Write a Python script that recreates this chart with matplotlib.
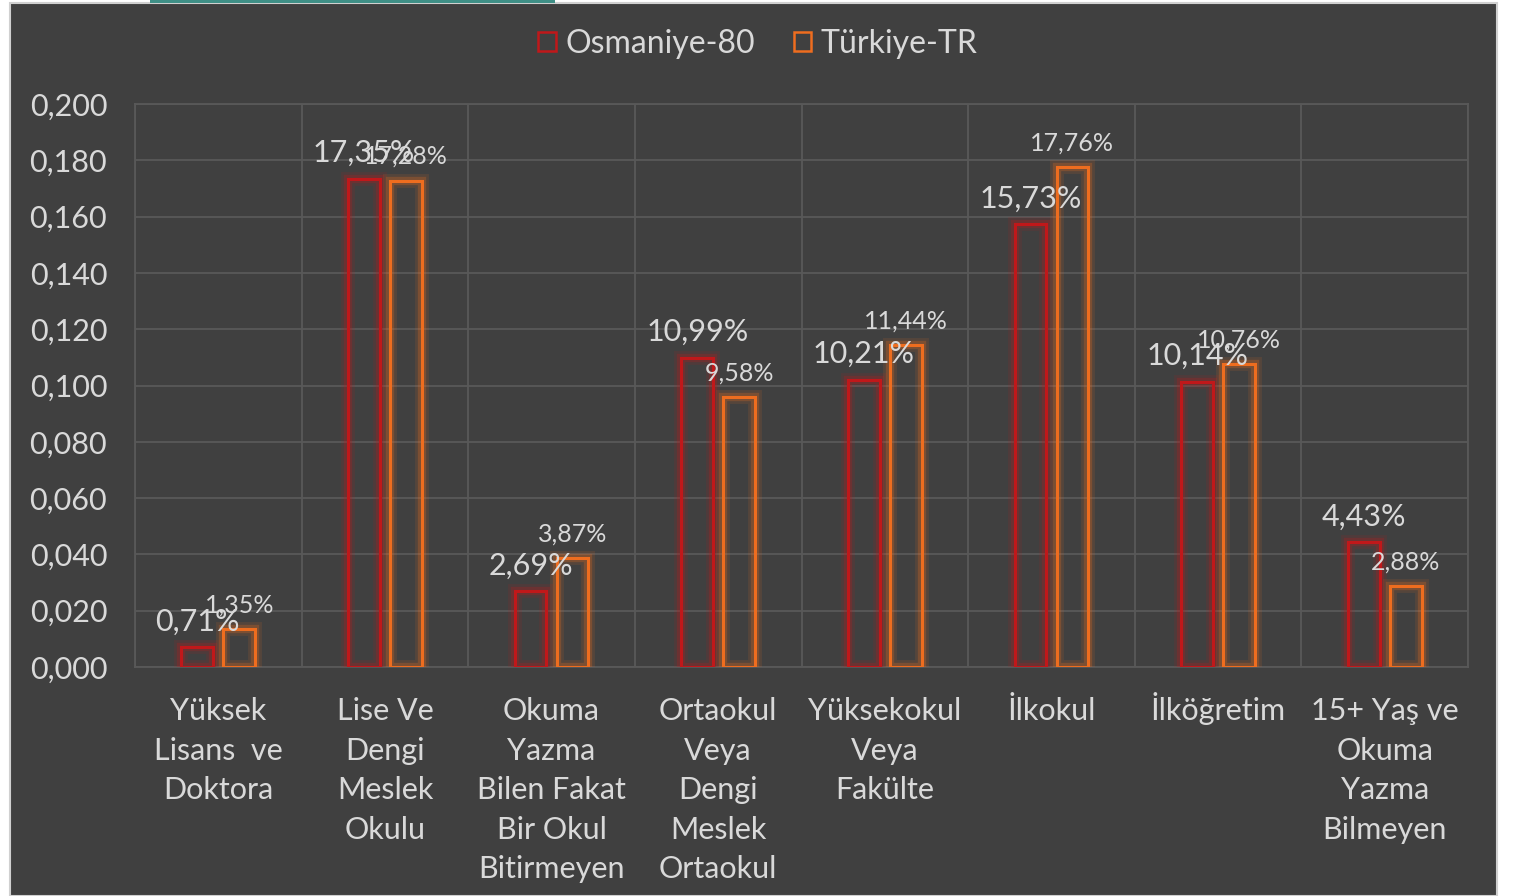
import numpy as np
import matplotlib.pyplot as plt
import matplotlib.patheffects as pe
import matplotlib.transforms as mtransforms
from matplotlib.patches import Patch, Rectangle
from matplotlib.ticker import FuncFormatter, MultipleLocator, FixedLocator

categories = ["Yüksek\nLisans  ve\nDoktora", "Lise Ve\nDengi\nMeslek\nOkulu",
              "Okuma\nYazma\nBilen Fakat\nBir Okul\nBitirmeyen",
              "Ortaokul\nVeya\nDengi\nMeslek\nOrtaokul", "Yüksekokul\nVeya\nFakülte",
              "İlkokul", "İlköğretim", "15+ Yaş ve\nOkuma\nYazma\nBilmeyen"]
osmaniye = [0.0071, 0.1735, 0.0269, 0.1099, 0.1021, 0.1573, 0.1014, 0.0443]
turkiye = [0.0135, 0.1728, 0.0387, 0.0958, 0.1144, 0.1776, 0.1076, 0.0288]
series_names = ["Osmaniye-80", "Türkiye-TR"]

BG = "#404040"
GRID = "#595959"
TXT = "#d9d9d9"
RED = "#c0181a"
ORANGE = "#ee6d1f"

plt.rcParams["font.family"] = ["Lato", "DejaVu Sans"]

fig = plt.figure(figsize=(15.13, 8.96), dpi=100, facecolor="white")
# dark panel
fig.patches.append(Rectangle((10 / 1513, 0), 1487 / 1513, 893 / 896,
                             transform=fig.transFigure, facecolor=BG,
                             edgecolor="#d0d0d0", linewidth=1.5, zorder=-10))
fig.patches.append(Rectangle((150 / 1513, 893 / 896), 405 / 1513, 3 / 896,
                             transform=fig.transFigure, facecolor="#3f8f86",
                             edgecolor="none", zorder=-9))

ax = fig.add_axes([135 / 1513, 229 / 896, 1333 / 1513, 563 / 896])
ax.set_facecolor(BG)

x = np.arange(len(categories))
w = 0.19
off = 0.126

def glow(color):
    return [pe.Stroke(linewidth=10, foreground=color, alpha=0.12),
            pe.Stroke(linewidth=6, foreground=color, alpha=0.25),
            pe.Normal()]

b1 = ax.bar(x - off, osmaniye, w, facecolor="none", edgecolor=RED, linewidth=2.2,
            zorder=3)
b2 = ax.bar(x + off, turkiye, w, facecolor="none", edgecolor=ORANGE, linewidth=2.2,
            zorder=3)
for b in b1:
    b.set_path_effects(glow(RED))
for b in b2:
    b.set_path_effects(glow(ORANGE))

def pct(v):
    return ("%.2f%%" % (v * 100)).replace(".", ",")

for xi, v in zip(x, osmaniye):
    ax.annotate(pct(v), (xi - off, v), xytext=(0, 12), textcoords="offset points",
                ha="center", va="baseline", fontsize=22, color=TXT, zorder=5)
for xi, v in zip(x, turkiye):
    ax.annotate(pct(v), (xi + off, v), xytext=(0, 12), textcoords="offset points",
                ha="center", va="baseline", fontsize=18, color=TXT, zorder=5)

ax.set_xlim(-0.5, len(categories) - 0.5)
ax.set_ylim(0, 0.2)
ax.yaxis.set_major_locator(MultipleLocator(0.02))
ax.yaxis.set_major_formatter(FuncFormatter(lambda v, p: ("%.3f" % v).replace(".", ",")))
ax.set_xticks(x)
ax.set_xticklabels([])
ax.xaxis.set_minor_locator(FixedLocator(np.arange(-0.5, len(categories), 1.0)))
ax.tick_params(axis="both", which="both", length=0, colors=TXT, labelsize=22)
ax.tick_params(axis="y", pad=20)
ax.grid(axis="y", color=GRID, linewidth=1.3, zorder=0)
ax.grid(axis="x", which="minor", color=GRID, linewidth=1.3, zorder=0)
ax.grid(axis="x", which="major", visible=False)
for s in ax.spines.values():
    s.set_color(GRID)
    s.set_linewidth(1.3)

# category labels, one text per line so every line sits on its own baseline
for xi, lab in zip(x, categories):
    for i, line in enumerate(lab.split("\n")):
        trans = mtransforms.blended_transform_factory(ax.transData, ax.transAxes) + \
            mtransforms.ScaledTranslation(0, -(53 + 39.5 * i) / 100, fig.dpi_scale_trans)
        ax.text(xi, 0, line, transform=trans, ha="center", va="baseline",
                fontsize=22, color=TXT)

handles = [Patch(facecolor="none", edgecolor=RED, linewidth=1.8),
           Patch(facecolor="none", edgecolor=ORANGE, linewidth=1.8)]
leg = fig.legend(handles, series_names, loc="center", bbox_to_anchor=(0.501, 0.951),
                 ncol=2, frameon=False, fontsize=23, handlelength=0.55,
                 handleheight=0.55, handletextpad=0.3, columnspacing=1.2)
for t in leg.get_texts():
    t.set_color(TXT)

fig.savefig("out.png", dpi=100, facecolor="white")
